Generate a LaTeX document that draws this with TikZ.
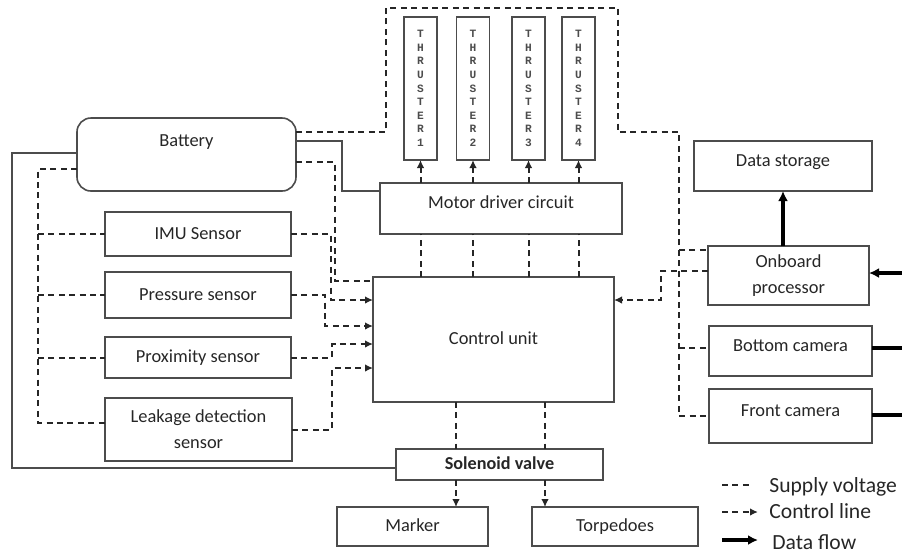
\documentclass[tikz,border=0pt]{standalone}
\usepackage{fontspec}
\setmainfont{Carlito}
\newfontfamily\thrfont{Liberation Mono}
\usepackage{tikz}
\usetikzlibrary{arrows.meta,calc,positioning}
\tikzset{
  box/.style={draw=black!70,line width=0.8pt,inner sep=0pt,outer sep=0pt,text=black!85,align=center,
    font=\fontsize{9.2}{13}\selectfont,text height=7pt,text depth=2pt},
  groesse/.style 2 args={minimum width=#1*0.5pt,minimum height=#2*0.5pt},
  hoch/.style={text depth=7pt},
  zweizeilig/.style={text height={},text depth={}},
  supply/.style={draw=black!85,line width=1pt,dash pattern=on 3pt off 2.2pt},
  control/.style={supply,-{Latex[length=4pt,width=3.8pt]}},
  data/.style={draw=black,line width=1.6pt,-{Latex[length=5pt,width=5pt]}},
  leitung/.style={draw=black!70,line width=0.6pt},
  legende/.style={anchor=west,inner sep=0pt,text=black!85,font=\fontsize{10.8}{13}\selectfont},
}
\begin{document}
\begin{tikzpicture}[x=0.5pt,y=-0.5pt]
\useasboundingbox (0,0) rectangle (902,554);
%Bloecke links
\node[box,groesse={219}{73},rounded corners=7pt,text depth=15.5pt] (batt) at (186.5,154.5) {Battery};
\node[box,groesse={186}{44}] (imu) at (198,234) {IMU Sensor};
\node[box,groesse={186}{46}] (press) at (198,295) {Pressure sensor};
\node[box,groesse={186}{41}] (prox) at (198,357.5) {Proximity sensor};
\node[box,groesse={187}{63},zweizeilig] (leak) at (198.5,429.5) {Leakage detection\\sensor};
%Mitte
\node[box,groesse={242}{51},hoch] (mdc) at (501,208.5) {Motor driver circuit};
\node[box,groesse={241}{125}] (ctrl) at (493.5,339.5) {Control unit};
\foreach \n/\x in {1/420.5,2/473,3/528.5,4/578.5}
  \node[box,groesse={33}{143},zweizeilig,text=black!70,font=\thrfont\bfseries\fontsize{5.6}{6.8}\selectfont] (thr\n) at (\x,88.5) {T\\H\\R\\U\\S\\T\\E\\R\\\n};
\node[box,groesse={207}{31},font=\fontsize{9.1}{11}\selectfont\bfseries] (sol) at (499.5,464.5) {Solenoid valve};
\node[box,groesse={151}{39}] (marker) at (412.5,526.5) {Marker};
\node[box,groesse={166}{39}] (torp) at (615,526.5) {Torpedoes};
%rechts
\node[box,groesse={178}{50},hoch] (store) at (783,166) {Data storage};
\node[box,groesse={161}{59},zweizeilig] (obp) at (788.5,275.5) {Onboard\\processor};
\node[box,groesse={163}{50},hoch] (bcam) at (790.5,351) {Bottom camera};
\node[box,groesse={163}{54},hoch] (fcam) at (790.5,416) {Front camera};
%Versorgung (gestrichelt)
\coordinate (lbus) at (38,169);
\draw[supply] (batt.west |- lbus) -- (lbus) |- (leak.west |- 0,423);
\foreach \s in {imu,press,prox} \draw[supply] (lbus |- \s.west) -- (\s.west);
\draw[supply] (batt.east |- 0,132) -| (386,8) -| (618,132) -| ($(fcam.west)+(-30,0)$) -- (fcam.west);
\draw[supply] (679,250) -- (obp.west |- 0,250);
\draw[supply] (679,348) -- (bcam.west |- 0,348);
\draw[supply] (batt.east |- 0,162) -| (335,281) -- (ctrl.west |- 0,281);
\draw[leitung] (batt.west |- 0,153) -| (12,468) -- (sol.west |- 0,468);
\draw[leitung] (batt.east |- 0,141) -| (342,191) -- (mdc.west |- 0,191);
%Steuerleitungen
\foreach \s/\xk/\yk in {imu/331/300,press/325/326,prox/332/344,leak/332/368}
  \draw[control] (\s.east) -| (\xk,\yk) -- (ctrl.west |- 0,\yk);
\foreach \n in {1,...,4}{
  \draw[control] (mdc.north -| thr\n) -- (thr\n.south);
  \draw[supply] (ctrl.north -| thr\n) -- (mdc.south -| thr\n);
}
\draw[control] (obp.west |- 0,271) -| (661,300) -- (ctrl.east |- 0,300);
\foreach \x/\z in {456/marker,545/torp}{
  \draw[supply] (ctrl.south -| \x,0) -- (sol.north -| \x,0);
  \draw[control] (sol.south -| \x,0) -- (\z.north -| \x,0);
}
%Datenfluss
\coordinate (ein) at (902,273);
\coordinate (bout) at (902,348);
\coordinate (fout) at (902,415);
\draw[data] (obp.north -| store.south) -- (store.south);
\draw[data] (ein) -- (obp.east |- ein);
\draw[data,-] (bcam.east |- bout) -- (bout);
\draw[data,-] (fcam.east |- fout) -- (fout);
%Legende
\node[legende] (lsupply) at (769,487) {Supply voltage};
\node[legende] (lcontrol) at (769,511) {Control line};
\node[legende] (ldata) at (772,542) {Data flow};
\draw[supply] ($(lsupply.west)+(-47,-2)$) -- ++(31,0);
\draw[control] ($(lcontrol.west)+(-47,1)$) -- ++(36,0);
\draw[data] ($(ldata.west)+(-50,-2)$) -- ++(36,0);
\end{tikzpicture}
\end{document}
